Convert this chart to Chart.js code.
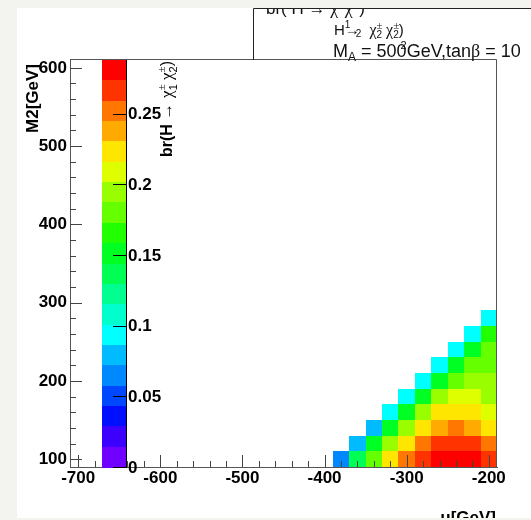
<!DOCTYPE html>
<html>
<head>
<meta charset="utf-8">
<script src="https://cdn.jsdelivr.net/npm/chart.js@4"></script>
<style>
  html, body { margin: 0; padding: 0; background: #f3f3f0; }
  canvas { display: block; }
</style>
</head>
<body>
<canvas id="brChart" width="531" height="520"></canvas>
<script>
// bin centres (GeV)
const muValues = [-380, -360, -340, -320, -300, -280, -260, -240, -220, -200];
const m2Values = [100, 120, 140, 160, 180, 200, 220, 240, 260, 280];
// br(H -> chi1 chi2), one row per M2 value, one column per mu value
const brRows = [
    [0.065, 0.137, 0.180, 0.223, 0.252, 0.266, 0.281, 0.286, 0.283, 0.267],
    [null, 0.079, 0.151, 0.194, 0.223, 0.252, 0.266, 0.268, 0.265, 0.252],
    [null, null, 0.079, 0.151, 0.194, 0.223, 0.238, 0.252, 0.239, 0.224],
    [null, null, null, 0.094, 0.151, 0.194, 0.223, 0.224, 0.222, 0.209],
    [null, null, null, null, 0.094, 0.151, 0.194, 0.209, 0.210, 0.195],
    [null, null, null, null, null, 0.094, 0.151, 0.180, 0.194, 0.195],
    [null, null, null, null, null, null, 0.094, 0.151, 0.180, 0.181],
    [null, null, null, null, null, null, null, 0.094, 0.152, 0.180],
    [null, null, null, null, null, null, null, null, 0.094, 0.166],
    [null, null, null, null, null, null, null, null, null, 0.094]
];
const xTicks = [-700, -600, -500, -400, -300, -200];
const yTicks = [100, 200, 300, 400, 500, 600];
const zTicks = [0, 0.05, 0.1, 0.15, 0.2, 0.25];
const zLabels = ['0', '0.05', '0.1', '0.15', '0.2', '0.25'];
const zMax = 0.288;
const binW = 20;
const binH = 20;

// ROOT style rainbow palette, 20 contours
const palette = ['#7000ff', '#3c00ff', '#0010ff', '#0048ff', '#0088ff', '#00bbff', '#00ffff', '#00ffcc',
    '#00ff90', '#00ff55', '#00ff22', '#22ff00', '#66ff00', '#99ff00', '#ddff00', '#ffe600',
    '#ffaa00', '#ff7700', '#ff3300', '#ff0000'];

const cells = [];
m2Values.forEach((m2, i) => {
    muValues.forEach((mu, j) => {
        if (brRows[i][j] !== null) cells.push({x: mu, y: m2, v: brRows[i][j]});
    });
});

const SANS = "'Liberation Sans', Arial, sans-serif";
const SERIF = "'Liberation Serif', 'Times New Roman', serif";
const boldFont = 'bold 17px ' + SANS;

function colorFor(v) {
    let k = Math.floor(v / zMax * palette.length);
    if (k >= palette.length) k = palette.length - 1;
    return palette[k];
}

// draw a run of text pieces; stack = don't advance (next piece sits on top/below)
function drawParts(ctx, x, y, parts) {
    parts.forEach(p => {
        ctx.font = p.font;
        ctx.fillText(p.t, x + (p.dx || 0), y + (p.dy || 0));
        if (!p.stack) x += ctx.measureText(p.t).width + (p.dx || 0);
    });
    return x;
}
function partsWidth(ctx, parts) {
    let w = 0;
    parts.forEach(p => {
        ctx.font = p.font;
        if (!p.stack) w += ctx.measureText(p.t).width + (p.dx || 0);
    });
    return w;
}

const heatmapPlugin = {
    id: 'heatmap',
    beforeDraw(chart) {
        const ctx = chart.ctx;
        ctx.save();
        ctx.fillStyle = '#f3f3f0';
        ctx.fillRect(0, 0, chart.width, chart.height);
        ctx.fillStyle = '#ffffff';
        ctx.fillRect(17, 8, chart.width - 17, 510);
        const xs = chart.scales.x, ys = chart.scales.y;
        chart.data.datasets[0].data.forEach(c => {
            const x0 = Math.round(xs.getPixelForValue(c.x - binW / 2));
            const x1 = Math.round(xs.getPixelForValue(c.x + binW / 2));
            const y0 = Math.round(ys.getPixelForValue(c.y + binH / 2));
            const y1 = Math.round(ys.getPixelForValue(c.y - binH / 2));
            ctx.fillStyle = colorFor(c.v);
            ctx.fillRect(x0, y0, x1 - x0, y1 - y0);
        });
        ctx.restore();
    },
    afterDraw(chart) {
        const ctx = chart.ctx;
        const area = chart.chartArea;
        const xs = chart.scales.x, ys = chart.scales.y, zs = chart.scales.z;
        ctx.save();

        // inward ticks, ROOT style
        ctx.strokeStyle = '#444';
        ctx.lineWidth = 1;
        ctx.beginPath();
        for (let v = -700; v <= -200; v += 20) {
            const px = Math.round(xs.getPixelForValue(v)) + 0.5;
            const len = v % 100 === 0 ? 12 : 6;
            ctx.moveTo(px, area.bottom);
            ctx.lineTo(px, area.bottom - len);
        }
        for (let v = 100; v <= 600; v += 20) {
            const py = Math.round(ys.getPixelForValue(v)) + 0.5;
            const len = v % 100 === 0 ? 12 : 6;
            ctx.moveTo(area.left, py);
            ctx.lineTo(area.left + len, py);
        }
        ctx.stroke();

        // top and right frame
        ctx.strokeStyle = '#555';
        ctx.beginPath();
        ctx.moveTo(area.left, area.top - 0.5);
        ctx.lineTo(area.right - 0.5, area.top - 0.5);
        ctx.lineTo(area.right - 0.5, area.bottom);
        ctx.stroke();

        // palette bar
        const barL = 102, barR = 126;
        const nLev = palette.length;
        for (let k = 0; k < nLev; k++) {
            const yTop = Math.round(zs.getPixelForValue((k + 1) * zMax / nLev));
            const yBot = Math.round(zs.getPixelForValue(k * zMax / nLev));
            ctx.fillStyle = palette[k];
            ctx.fillRect(barL, yTop, barR - barL, yBot - yTop + (k === 0 ? 1 : 0));
        }
        ctx.strokeStyle = '#000';
        ctx.beginPath();
        ctx.moveTo(barR + 0.5, area.top);
        ctx.lineTo(barR + 0.5, area.bottom + 1);
        zTicks.forEach(v => {
            const py = Math.round(zs.getPixelForValue(v)) + 0.5;
            ctx.moveTo(barR - 13, py);
            ctx.lineTo(barR + 0.5, py);
        });
        ctx.stroke();
        ctx.fillStyle = '#000';
        ctx.font = boldFont;
        ctx.textAlign = 'left';
        ctx.textBaseline = 'middle';
        zTicks.forEach((v, i) => {
            ctx.fillText(zLabels[i], barR + 2, zs.getPixelForValue(v) + 1);
        });

        // palette axis title, rotated
        ctx.textBaseline = 'alphabetic';
        const zTitle = [
            {t: 'br(H ', font: 'bold 16px ' + SANS},
            {t: '\u2192 ', font: 'bold 17px ' + SANS},
            {t: '\u03c7', font: '17px ' + SERIF},
            {t: '\u00b1', font: '11px ' + SERIF, dy: -7, stack: true},
            {t: '1', font: '11px ' + SANS, dy: 5},
            {t: ' \u03c7', font: '17px ' + SERIF},
            {t: '\u00b1', font: '11px ' + SERIF, dy: -7, stack: true},
            {t: '2', font: '11px ' + SANS, dy: 5},
            {t: ')', font: '16px ' + SANS}
        ];
        ctx.save();
        ctx.translate(172, 61);
        ctx.rotate(-Math.PI / 2);
        drawParts(ctx, -partsWidth(ctx, zTitle), 0, zTitle);
        ctx.restore();

        // y axis title
        ctx.save();
        ctx.translate(38, 64);
        ctx.rotate(-Math.PI / 2);
        ctx.font = boldFont;
        ctx.textAlign = 'right';
        ctx.fillText('M2[GeV]', 0, 0);
        ctx.restore();

        // x axis title, cut by the canvas edge like the original
        ctx.save();
        ctx.beginPath();
        ctx.rect(0, 0, chart.width, 518);
        ctx.clip();
        ctx.font = boldFont;
        ctx.textAlign = 'right';
        ctx.fillText('\u03bc[GeV]', area.right - 1, 523);
        ctx.restore();

        // title box
        ctx.strokeStyle = '#222';
        ctx.beginPath();
        ctx.moveTo(253.5, area.top);
        ctx.lineTo(253.5, 8.5);
        ctx.lineTo(chart.width, 8.5);
        ctx.stroke();

        ctx.save();
        ctx.beginPath();
        ctx.rect(254, 9, chart.width - 254, area.top - 9 + 4);
        ctx.clip();
        ctx.fillStyle = '#111';
        ctx.textAlign = 'left';
        const t1 = [
            {t: 'br( H ', font: '17px ' + SANS},
            {t: '\u2192 ', font: '17px ' + SANS},
            {t: '\u03c7', font: '18px ' + SERIF},
            {t: '\u00b1', font: '12px ' + SERIF, dy: -7},
            {t: '\u03c7', font: '18px ' + SERIF},
            {t: '\u00b1', font: '12px ' + SERIF, dy: -7},
            {t: ')', font: '17px ' + SANS}
        ];
        drawParts(ctx, 266, 14, t1);
        const t2 = [
            {t: 'H', font: '15px ' + SANS},
            {t: '1', font: '10px ' + SANS, dy: -7, stack: true},
            {t: '\u2192', font: '15px ' + SANS},
            {t: '2', font: '10px ' + SANS, dx: -4, dy: 2},
            {t: '  \u03c7', font: '16px ' + SERIF},
            {t: '\u00b1', font: '11px ' + SERIF, dy: -6, stack: true},
            {t: '2', font: '10px ' + SANS, dy: 3},
            {t: ' \u03c7', font: '16px ' + SERIF},
            {t: '\u00b1', font: '11px ' + SERIF, dy: -6, stack: true},
            {t: '2', font: '10px ' + SANS, dy: 3},
            {t: ')', font: '15px ' + SANS}
        ];
        drawParts(ctx, 334, 35, t2);
        const t3 = [
            {t: 'M', font: '18px ' + SANS},
            {t: 'A', font: '12px ' + SANS, dy: 4},
            {t: ' = 500', font: '18px ' + SANS},
            {t: '2', font: '11px ' + SANS, dx: -6, dy: -8},
            {t: 'GeV,tan', font: '18px ' + SANS},
            {t: '\u03b2', font: '18px ' + SERIF},
            {t: ' = 10', font: '18px ' + SANS}
        ];
        drawParts(ctx, 333, 57, t3);
        ctx.restore();

        ctx.restore();
    }
};

function initBrChart() {
    const ctx = document.getElementById('brChart').getContext('2d');
    const brChart = new Chart(ctx, {
        type: 'scatter',
        data: {
            datasets: [{
                data: cells,
                pointRadius: 0,
                pointHoverRadius: 0
            }]
        },
        options: {
            responsive: false,
            animation: false,
            events: [],
            layout: { padding: { top: 60, right: 34, left: 0, bottom: 0 } },
            plugins: { legend: { display: false }, tooltip: { enabled: false } },
            scales: {
                x: {
                    type: 'linear',
                    min: -710,
                    max: -190,
                    afterBuildTicks: s => { s.ticks = xTicks.map(v => ({value: v})); },
                    afterFit: s => { s.height = 53; },
                    ticks: {
                        font: { family: SANS, size: 17, weight: 'bold' },
                        color: '#000',
                        padding: 1,
                        maxRotation: 0,
                        autoSkip: false,
                        callback: v => String(v)
                    },
                    grid: { display: false, drawTicks: false },
                    border: { display: true, color: '#555' }
                },
                y: {
                    type: 'linear',
                    min: 90,
                    max: 610,
                    afterBuildTicks: s => { s.ticks = yTicks.map(v => ({value: v})); },
                    afterFit: s => { s.width = 70; },
                    ticks: {
                        font: { family: SANS, size: 17, weight: 'bold' },
                        color: '#000',
                        padding: 3,
                        callback: v => String(v)
                    },
                    grid: { display: false, drawTicks: false },
                    border: { display: true, color: '#555' }
                },
                z: {
                    type: 'linear',
                    display: false,
                    position: 'left',
                    min: 0,
                    max: zMax
                }
            }
        },
        plugins: [heatmapPlugin]
    });
}

window.onload = () => {
    initBrChart();
};
</script>
</body>
</html>
